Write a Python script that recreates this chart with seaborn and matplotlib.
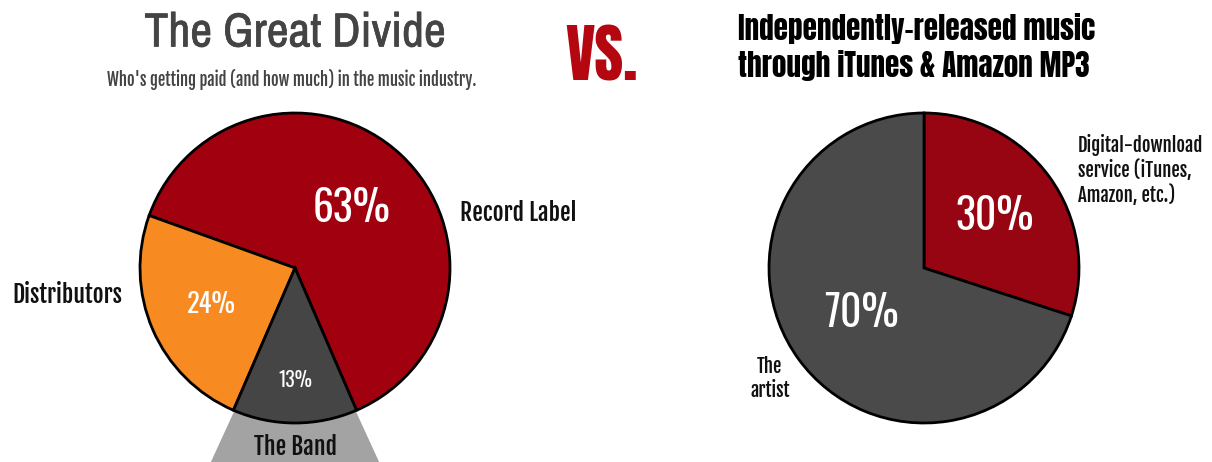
import matplotlib
matplotlib.use("Agg")
import matplotlib.pyplot as plt
import matplotlib.patheffects as pe
from matplotlib.patches import Polygon
import numpy as np
import seaborn as sns

left_labels = ["Record Label", "Distributors", "The Band"]
left_values = [63, 24, 13]
right_labels = ["Digital-download\nservice (iTunes,\nAmazon, etc.)", "The\nartist"]
right_values = [30, 70]

sns.set_theme(style="white")
HEAVY = ["Anton", "League Gothic", "Oswald", "DejaVu Sans"]
LABEL = ["Fjalla One", "Oswald", "Archivo Narrow", "DejaVu Sans"]
PCT = ["Oswald", "Archivo Narrow", "DejaVu Sans"]
TITLE = ["Archivo Narrow", "Oswald", "DejaVu Sans"]
plt.rcParams['font.family'] = LABEL

RED = "#A1000F"
ORANGE = "#F78B22"
DGRAY = "#454545"
RGRAY = "#4A4A4A"
RRED = "#960511"

W, H = 1212, 462
fig = plt.figure(figsize=(W / 100, H / 100), dpi=100)
fig.patch.set_facecolor("white")

def add_pie_axes(cx, cy, r):
    ax = fig.add_axes([(cx - r) / W, (H - cy - r) / H, 2 * r / W, 2 * r / H])
    ax.set_axis_off()
    return ax

# Left pie
axl = add_pie_axes(295, 268, 155)
band_share = left_values[2] / sum(left_values) * 360
wedges, _ = axl.pie(left_values, colors=[RED, ORANGE, DGRAY], startangle=270 + band_share / 2,
                    radius=1, wedgeprops=dict(edgecolor="black", linewidth=2))
axl.set_xlim(-1, 1); axl.set_ylim(-1, 1); axl.set_aspect("equal")
trap = Polygon([[-0.374, -0.884], [0.374, -0.884], [0.62, -1.42], [-0.62, -1.42]],
               closed=True, facecolor="#A3A3A3", edgecolor="none", zorder=0, clip_on=False)
axl.add_patch(trap)
for w in wedges:
    w.set_clip_on(False)
    w.set_zorder(2)

pct_r = [0.53, 0.59, 0.72]
pct_size = [30, 19, 14]
for w, v, r, s in zip(wedges, left_values, pct_r, pct_size):
    th = np.deg2rad((w.theta1 + w.theta2) / 2)
    axl.text(r * np.cos(th), r * np.sin(th), f"{v}%", color="white", fontsize=s,
             ha="center", va="center", zorder=5, family=PCT)

axl.text(1.065, 0.355, left_labels[0], ha="left", va="center", fontsize=17, color="#111111")
axl.text(-1.116, -0.174, left_labels[1], ha="right", va="center", fontsize=17, color="#111111")
axl.text(0, -1.155, left_labels[2], ha="center", va="center", fontsize=17, color="#111111", zorder=5)

# Right pie
axr = add_pie_axes(924, 268, 155)
wr, _ = axr.pie(right_values, colors=[RRED, RGRAY], startangle=90, counterclock=False,
                radius=1, wedgeprops=dict(edgecolor="black", linewidth=2))
axr.set_xlim(-1, 1); axr.set_ylim(-1, 1); axr.set_aspect("equal")
for w in wr:
    w.set_clip_on(False)
for w, v, r in zip(wr, right_values, [0.56, 0.50]):
    th = np.deg2rad((w.theta1 + w.theta2) / 2)
    axr.text(r * np.cos(th), r * np.sin(th), f"{v}%", color="white", fontsize=30,
             ha="center", va="center", family=PCT)
axr.text(0.994, 0.632, right_labels[0], ha="left", va="center", fontsize=13.4,
         color="#111111", linespacing=1.18)
axr.text(-0.994, -0.71, right_labels[1], ha="center", va="center", fontsize=13.4,
         color="#111111", linespacing=1.18)

# Titles
fig.text(295 / W, 1 - 33 / H, "The Great Divide", ha="center", va="center",
         fontsize=34.5, color="#444444", family=TITLE,
         path_effects=[pe.withStroke(linewidth=0.5, foreground="#444444")])
fig.text(292 / W, 1 - 79 / H, "Who's getting paid (and how much) in the music industry.",
         ha="center", va="center", fontsize=11.9, color="#444444")
fig.text(601 / W, 1 - 57 / H, "VS.", ha="center", va="center", fontsize=45,
         color="#B5070F", family=HEAVY)
fig.text(738 / W, 1 - 47 / H, "Independently-released music\nthrough iTunes & Amazon MP3",
         ha="left", va="center", fontsize=21, color="black", family=HEAVY, linespacing=1.25)

fig.savefig("out.png", dpi=100, facecolor="white")
